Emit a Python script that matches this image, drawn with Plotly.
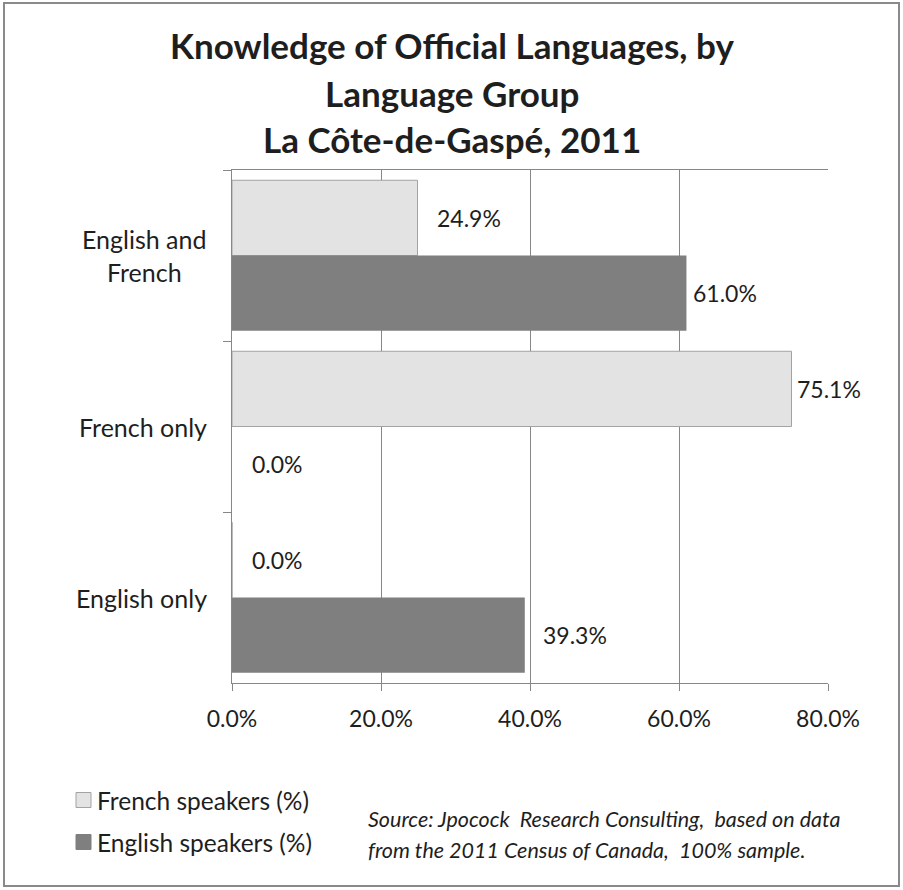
import plotly.graph_objects as go

# Language-group knowledge of official languages, La Côte-de-Gaspé, 2011
categories = ["English and French", "French only", "English only"]
category_lines = {"English and French": "English and<br>French"}
french_speakers = [24.9, 75.1, 0.0]
english_speakers = [61.0, 0.0, 39.3]
x_ticks = [0, 20, 40, 60, 80]
x_tick_labels = ["0.0%", "20.0%", "40.0%", "60.0%", "80.0%"]

title_lines = ["Knowledge of Official Languages, by", "Language Group", "La Côte-de-Gaspé, 2011"]
source_lines = ["Source: Jpocock  Research Consulting,  based on data",
                "from the 2011 Census of Canada,  100% sample."]

FONT = "Lato"
TEXT = "#1e1e1e"
GRID = "#878787"
LIGHT = "#E3E3E3"
LIGHT_EDGE = "#A3A3A3"
DARK = "#7F7F7F"

W, H = 903, 890
L, R, T, B = 232, 828, 170, 683
BARGAP = 0.12

# label nudges in pixels (right of bar end)
french_nudge = [17, 3, 18]
english_nudge = [5, 18, 16]


def px_x(px):
    return (px - L) / (R - L)


def px_y(py):
    return (B - py) / (B - T)


fig = go.Figure()
fig.add_trace(go.Bar(
    name="French speakers (%)", y=categories, x=french_speakers, orientation="h",
    marker=dict(color=LIGHT, line=dict(color=LIGHT_EDGE, width=1)),
    showlegend=False, hoverinfo="x+y",
))
fig.add_trace(go.Bar(
    name="English speakers (%)", y=categories, x=english_speakers, orientation="h",
    marker=dict(color=DARK, line=dict(color=DARK, width=0)),
    showlegend=False, hoverinfo="x+y",
))

half = (1 - BARGAP) / 4
annotations = []
for i, cat in enumerate(categories):
    for vals, nudge, off in ((french_speakers, french_nudge, -half),
                             (english_speakers, english_nudge, half)):
        annotations.append(dict(
            x=vals[i], y=i + off, xref="x", yref="y", text=f"{vals[i]:.1f}%",
            xanchor="left", yanchor="middle", xshift=nudge[i], showarrow=False,
            font=dict(family=FONT, size=23, color=TEXT),
        ))
    annotations.append(dict(
        x=px_x(209), y=i, xref="paper", yref="y", text=category_lines.get(cat, cat),
        xanchor="right", yanchor="middle", align="center", showarrow=False,
        font=dict(family=FONT, size=25, color=TEXT),
    ))

for line, cy in zip(title_lines, [45, 93, 139]):
    annotations.append(dict(
        x=px_x(W / 2), y=px_y(cy), xref="paper", yref="paper", text=f"<b>{line}</b>",
        xanchor="center", yanchor="middle", showarrow=False,
        font=dict(family=FONT, size=35, color=TEXT),
    ))

for line, cy in zip(source_lines, [819, 850]):
    annotations.append(dict(
        x=px_x(366), y=px_y(cy), xref="paper", yref="paper", text=f"<i>{line}</i>",
        xanchor="left", yanchor="middle", showarrow=False,
        font=dict(family=FONT, size=21.5, color=TEXT),
    ))

shapes = [dict(type="rect", xref="paper", yref="paper",
               x0=px_x(4), x1=px_x(899), y0=px_y(886), y1=px_y(3),
               line=dict(color="#8a8a8a", width=2), layer="below")]

# legend drawn as swatch + label pairs
for tr, cy in zip(fig.data, [800, 842]):
    shapes.append(dict(type="rect", xref="paper", yref="paper",
                       x0=px_x(76), x1=px_x(91), y0=px_y(cy + 7.5), y1=px_y(cy - 7.5),
                       fillcolor=tr.marker.color, line=dict(color=tr.marker.line.color, width=1)))
    annotations.append(dict(
        x=px_x(95), y=px_y(cy), xref="paper", yref="paper", text=tr.name,
        xanchor="left", yanchor="middle", showarrow=False,
        font=dict(family=FONT, size=24.5, color=TEXT),
    ))

fig.update_layout(
    width=W, height=H,
    margin=dict(l=L, r=W - R, t=T, b=H - B),
    paper_bgcolor="white", plot_bgcolor="white",
    barmode="group", bargap=BARGAP, bargroupgap=0,
    font=dict(family=FONT, color=TEXT, size=23),
    annotations=annotations, shapes=shapes,
    xaxis=dict(
        range=[0, 80], tickvals=x_ticks, ticktext=x_tick_labels,
        showgrid=True, gridcolor=GRID, gridwidth=1,
        showline=True, linecolor=GRID, linewidth=1, mirror=True,
        ticks="outside", ticklen=7, tickcolor=GRID, ticklabelstandoff=8,
        tickfont=dict(family=FONT, size=23, color=TEXT), zeroline=False,
    ),
    yaxis=dict(
        categoryorder="array", categoryarray=categories, autorange="reversed",
        showticklabels=False, showgrid=False,
        showline=True, linecolor=GRID, linewidth=1,
        ticks="outside", tickson="boundaries", ticklen=8, tickcolor=GRID,
    ),
)

fig.write_html("out.html")
